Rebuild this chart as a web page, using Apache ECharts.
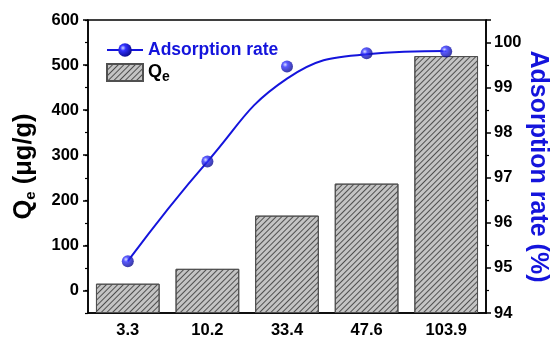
<!DOCTYPE html>
<html><head><meta charset="utf-8">
<script src="https://cdn.jsdelivr.net/npm/echarts@6/dist/echarts.min.js"></script>
<style>html,body{margin:0;padding:0;background:#fff}#c{width:553px;height:343px}</style>
</head><body><div id="c"></div>
<script>
const categories = ['3.3', '10.2', '33.4', '47.6', '103.9'];
const qeValues = [15, 48, 166, 237, 520];
const rateValues = [95.15, 97.36, 99.47, 99.76, 99.8];
const fitValues = [95.15, 97.36, 99.2, 99.74, 99.81];
const leftTicks = [0, 100, 200, 300, 400, 500, 600];

const FONT = 'Liberation Sans';
const BLUE = '#1414dc';
const sphere = {
  type: 'radial', x: 0.35, y: 0.35, r: 0.7,
  colorStops: [{offset: 0, color: '#d0d8ff'}, {offset: 0.3, color: '#3030ff'}, {offset: 1, color: '#08088a'}]
};
const hatch = {
  symbol: 'rect', symbolSize: 1, color: 'rgba(40,40,40,0.75)',
  dashArrayX: [1, 0], dashArrayY: [1, 3], rotation: -Math.PI / 4
};

const chart = echarts.init(document.getElementById('c'), null, {renderer: 'canvas'});
chart.setOption({
  animation: false,
  backgroundColor: '#fff',
  textStyle: {fontFamily: FONT},
  grid: {left: 88, right: 67, top: 20, bottom: 30, show: true, borderColor: '#000', borderWidth: 1.5,
    containLabel: false, outerBoundsMode: 'none'},
  legend: {
    orient: 'vertical', left: 101, top: 36, itemGap: 4, itemWidth: 36, itemHeight: 17,
    data: [
      {name: 'Adsorption rate', textStyle: {color: BLUE, fontSize: 17.5, fontWeight: 'bold'}},
      {name: 'Qe', icon: 'rect', textStyle: {color: '#000'}}
    ],
    formatter: function (n) { return n === 'Qe' ? '{q|Q}{s|e}' : n; },
    textStyle: {
      fontFamily: FONT, fontWeight: 'bold', fontSize: 17.5,
      rich: {
        q: {fontFamily: FONT, fontWeight: 'bold', fontSize: 18, color: '#000', lineHeight: 24, verticalAlign: 'middle'},
        s: {fontFamily: FONT, fontWeight: 'bold', fontSize: 14, color: '#000', verticalAlign: 'bottom', lineHeight: 12}
      }
    }
  },
  xAxis: [
    {
      type: 'category', data: categories, position: 'bottom',
      axisLine: {onZero: false, lineStyle: {color: '#000', width: 1.5}},
      axisTick: {alignWithLabel: true, length: 5, lineStyle: {color: '#000', width: 1.5}},
      axisLabel: {color: '#000', fontSize: 16.5, fontWeight: 'bold', fontFamily: FONT, margin: 9}
    },
    {
      type: 'category', data: categories, position: 'bottom',
      axisLine: {show: false, onZero: false},
      axisTick: {length: 4, lineStyle: {color: '#000', width: 1.5}},
      axisLabel: {show: false}
    }
  ],
  yAxis: [
    {
      type: 'value', min: -50, max: 600, startValue: -50, position: 'left',
      name: '{q|Q}{s|e}{q| (μg/g)}', nameLocation: 'middle', nameGap: 50, nameMoveOverlap: false,
      nameTextStyle: {
        rich: {
          q: {fontFamily: FONT, fontWeight: 'bold', fontSize: 25.5, color: '#000', lineHeight: 28, verticalAlign: 'middle'},
          s: {fontFamily: FONT, fontWeight: 'bold', fontSize: 15, color: '#000', verticalAlign: 'bottom', lineHeight: 14}
        }
      },
      splitLine: {show: false},
      axisLine: {show: true, onZero: false, lineStyle: {color: '#000', width: 1.5}},
      axisTick: {show: true, length: 5, customValues: leftTicks, lineStyle: {color: '#000', width: 1.5}},
      axisLabel: {color: '#000', fontSize: 16.5, fontWeight: 'bold', fontFamily: FONT, margin: 9, customValues: leftTicks}
    },
    {
      type: 'value', min: 94, max: 100.5, interval: 1, position: 'right',
      name: 'Adsorption rate (%)', nameLocation: 'middle', nameGap: 39, nameRotate: -90, nameMoveOverlap: false,
      nameTextStyle: {color: BLUE, fontFamily: FONT, fontWeight: 'bold', fontSize: 25},
      splitLine: {show: false},
      axisLine: {show: true, onZero: false, lineStyle: {color: '#000', width: 1.5}},
      axisTick: {show: true, length: 5, lineStyle: {color: '#000', width: 1.5}},
      minorTick: {show: true, splitNumber: 2, length: 3, lineStyle: {color: '#000', width: 1.2}},
      axisLabel: {color: '#000', fontSize: 16.5, fontWeight: 'bold', fontFamily: FONT, margin: 8,
        formatter: function (v) { return Number.isInteger(v) ? String(v) : ''; }}
    },
    {
      type: 'value', min: -50, max: 600, interval: 50, position: 'left',
      splitLine: {show: false},
      axisLine: {show: false, onZero: false},
      axisTick: {show: true, length: 3, lineStyle: {color: '#000', width: 1.2}},
      axisLabel: {show: false}
    }
  ],
  series: [
    {
      name: 'Qe', type: 'bar', xAxisIndex: 0, yAxisIndex: 0, data: qeValues, barWidth: '80%', z: 2,
      itemStyle: {color: '#c4c4c4', borderColor: '#505050', borderWidth: 1, decal: hatch}
    },
    {
      name: 'Adsorption rate', type: 'line', xAxisIndex: 0, yAxisIndex: 1, data: fitValues, smooth: 0.45,
      symbol: 'circle', symbolSize: 12, showSymbol: false, z: 4,
      lineStyle: {color: BLUE, width: 2}, itemStyle: {color: sphere}
    },
    {
      name: 'points', type: 'scatter', xAxisIndex: 0, yAxisIndex: 1, data: rateValues,
      symbol: 'circle', symbolSize: 12, z: 5, itemStyle: {color: sphere}
    }
  ]
});
</script></body></html>
